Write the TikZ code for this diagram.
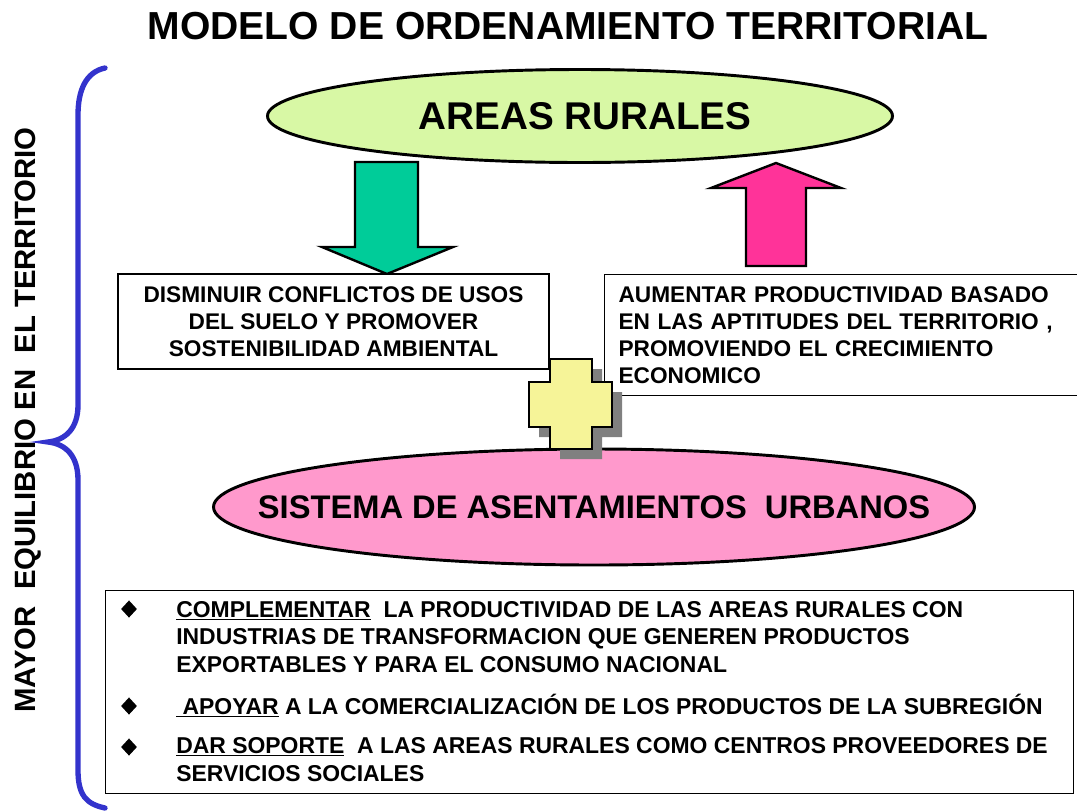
\documentclass[tikz,border=0pt]{standalone}
\usepackage{fontspec}
\setmainfont{Liberation Sans}
\usepackage{tikz}
\usetikzlibrary{shapes.geometric,positioning}
\definecolor{ruralgreen}{RGB}{216,248,165}
\definecolor{urbanpink}{RGB}{255,153,204}
\definecolor{downgreen}{RGB}{0,204,153}
\definecolor{uppink}{RGB}{255,51,153}
\definecolor{crossyellow}{RGB}{246,244,152}
\definecolor{braceblue}{RGB}{51,51,204}
\tikzset{
  oval/.style={ellipse, draw=black, line width=2.2pt, inner sep=0pt},
  goalbox/.style={draw=black, line width=0.9pt, inner sep=0pt, fill=white,
    font=\bfseries\fontsize{17}{20.25}\selectfont},
  blockarrow/.style={draw=black, line width=1.8pt, line join=miter},
  bulletmark/.style={diamond, fill=black, inner sep=0pt, minimum width=12pt, minimum height=13pt},
  itemtext/.style={anchor=base west, align=left, inner sep=0pt,
    font=\bfseries\fontsize{17.2}{20.6}\selectfont},
}

\begin{document}
\begin{tikzpicture}[x=0.75pt,y=-0.75pt]
\useasboundingbox (0,0) rectangle (1077,811);
\node[font=\bfseries\fontsize{29.3}{35}\selectfont] (titulo) at (568,26) {MODELO DE ORDENAMIENTO TERRITORIAL};
\node[rotate=90, font=\bfseries\fontsize{22}{26}\selectfont] (equilibrio) at (28,420) {MAYOR\ \ EQUILIBRIO EN\ \ EL TERRITORIO};
\draw[braceblue, line width=4pt, line cap=round] (105,68) .. controls (86,72) and (78,90) .. (78,115) -- (78,405)
  .. controls (78,428) and (66,440) .. (48,442) .. controls (66,444) and (78,456) .. (78,480) -- (78,770)
  .. controls (78,795) and (86,804) .. (105,808);
\node[oval, fill=ruralgreen, minimum width=468.75pt, minimum height=69.75pt,
  font=\bfseries\fontsize{29}{35}\selectfont] (rurales) at (580,116) {\makebox[0pt]{\hspace*{7.5pt}AREAS RURALES}};
\node[oval, fill=urbanpink, minimum width=570.75pt, minimum height=87pt,
  font=\bfseries\fontsize{24.5}{30}\selectfont] (urbanos) at (594,507) {\makebox[0pt]{SISTEMA DE ASENTAMIENTOS\ \ URBANOS}};
% block arrows between the rural areas and the two goals
\draw[blockarrow, fill=downgreen] (355,162) -- (418,162) -- (418,247) -- (453,247) -- (387,274) -- (322,247) -- (355,247) -- cycle;
\draw[blockarrow, fill=uppink] (746,266) -- (806,266) -- (806,188) -- (841,188) -- (776,163) -- (711,188) -- (746,188) -- cycle;
\node[goalbox, minimum width=323.25pt, minimum height=71.25pt, align=center] (conflictos) at (333.5,321.5)
  {DISMINUIR CONFLICTOS DE USOS\\DEL SUELO Y PROMOVER\\SOSTENIBILIDAD AMBIENTAL};
\node[goalbox, anchor=north west, inner xsep=10.5pt, text width=345pt, minimum height=90.75pt, align=left] (productividad) at (604,274)
  {AUMENTAR PRODUCTIVIDAD BASADO\\EN LAS APTITUDES DEL TERRITORIO ,\\PROMOVIENDO EL CRECIMIENTO\\ECONOMICO};
% plus sign with its shadow
\fill[black!50, shift={(10,10)}] (550,359) -- (592,359) -- (592,382) -- (612,382) -- (612,427) -- (592,427)
  -- (592,449) -- (550,449) -- (550,427) -- (529,427) -- (529,382) -- (550,382) -- cycle;
\draw[fill=crossyellow, line width=1pt] (550,359) -- (592,359) -- (592,382) -- (612,382) -- (612,427) -- (592,427)
  -- (592,449) -- (550,449) -- (550,427) -- (529,427) -- (529,382) -- (550,382) -- cycle;
\node[draw=black, line width=0.9pt, anchor=north west, minimum width=726pt, minimum height=152.25pt] (acciones) at (105,590) {};
\node[bulletmark] (b1) at (129,609) {};
\node[bulletmark] (b2) at (129,706) {};
\node[bulletmark] (b3) at (129,747) {};
% base anchor sits on the last line of each item
\node[itemtext] (item1) at (176,672) {\underline{COMPLEMENTAR}\ \ LA PRODUCTIVIDAD DE LAS AREAS RURALES CON\\INDUSTRIAS DE TRANSFORMACION QUE GENEREN PRODUCTOS\\EXPORTABLES Y PARA EL CONSUMO NACIONAL};
\node[itemtext] (item2) at (176,714) {\underline{\ APOYAR} A LA COMERCIALIZACIÓN DE LOS PRODUCTOS DE LA SUBREGIÓN};
\node[itemtext] (item3) at (176,781) {\underline{DAR SOPORTE}\ \ A LAS AREAS RURALES COMO CENTROS PROVEEDORES DE\\SERVICIOS SOCIALES};
\end{tikzpicture}
\end{document}
